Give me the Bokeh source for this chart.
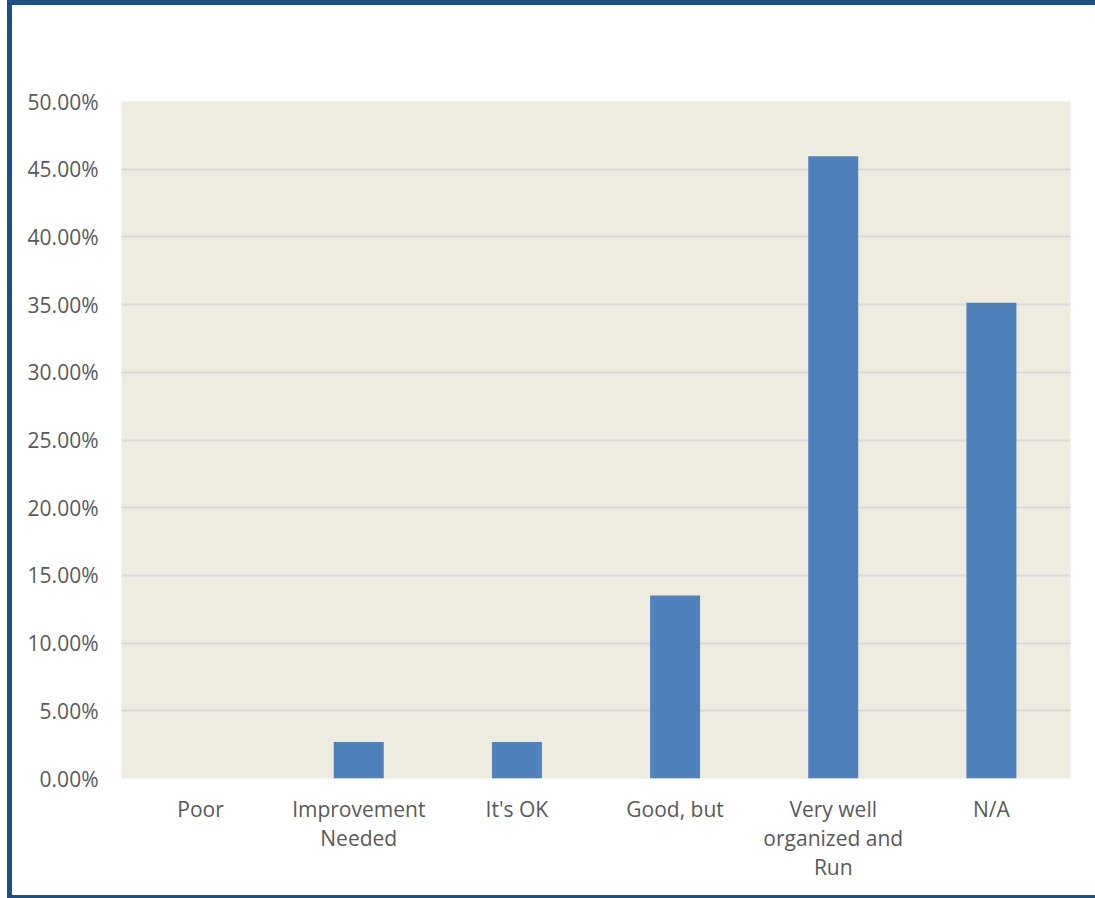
from bokeh.plotting import figure
from bokeh.models import NumeralTickFormatter, FixedTicker, Range1d, FactorRange
from bokeh.embed import file_html
from bokeh.resources import INLINE

categories = ["Poor", "Improvement\nNeeded", "It's OK", "Good, but", "Very well\norganized and\nRun", "N/A"]
shares = [0.0, 0.0270, 0.0270, 0.1351, 0.4595, 0.3514]
y_ticks = [0.0, 0.05, 0.10, 0.15, 0.20, 0.25, 0.30, 0.35, 0.40, 0.45, 0.50]

FONT = "Open Sans"
TEXT = "#595959"

p = figure(x_range=FactorRange(*categories, range_padding=0), y_range=Range1d(0, 0.5),
           width=1088, height=898, output_backend="svg", toolbar_location=None,
           min_border_left=109, min_border_right=30, min_border_top=96, min_border_bottom=125)
p.styles = {"border-left": "5px solid #1F4E85", "border-top": "5px solid #1F4E85",
            "border-bottom": "3px solid #1F4E85", "margin-left": "7px"}

p.background_fill_color = "#EEEBE1"
p.border_fill_color = "white"
p.outline_line_color = None

p.vbar(x=categories, top=shares, width=0.316, fill_color="#4F81BD", line_color=None)

p.yaxis.ticker = FixedTicker(ticks=y_ticks)
p.yaxis.formatter = NumeralTickFormatter(format="0.00%")
p.ygrid.grid_line_color = "#D9D9D9"
p.ygrid.grid_line_width = 2
p.xgrid.grid_line_color = None

for ax in (p.xaxis, p.yaxis):
    ax.axis_line_color = None
    ax.major_tick_line_color = None
    ax.minor_tick_line_color = None
    ax.major_label_text_font = FONT
    ax.major_label_text_font_size = "21px"
    ax.major_label_text_color = TEXT

p.yaxis.major_label_standoff = 17
p.xaxis.major_label_standoff = 10
p.xaxis.major_label_text_line_height = 1.05

open("out.html", "w").write(file_html(p, INLINE))
